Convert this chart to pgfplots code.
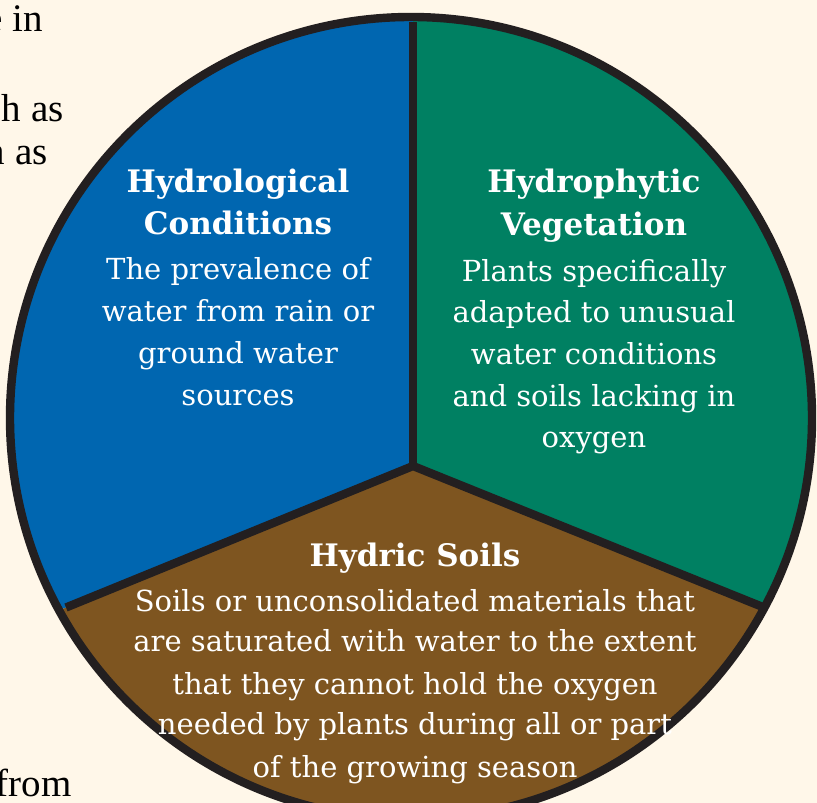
\documentclass[border=0pt]{standalone}
\usepackage{fontspec}
\setmainfont{DejaVu Serif}
\newfontfamily\blackfont{Liberation Serif}
\usepackage{pgfplots}
\pgfplotsset{compat=1.18}
\definecolor{cream}{RGB}{255,247,233}
\definecolor{pieblue}{RGB}{0,102,176}
\definecolor{piegreen}{RGB}{0,128,98}
\definecolor{piebrown}{RGB}{126,85,32}
\definecolor{outln}{RGB}{35,31,32}
\tikzset{
  head/.style={anchor=base, inner sep=0pt, text=white, font=\fontsize{15.5}{21}\selectfont\bfseries},
  body/.style={anchor=base, inner sep=0pt, text=white, font=\fontsize{14.5}{21}\selectfont},
  side/.style={anchor=base east, inner sep=0pt, text=black, font=\blackfont\fontsize{19.5}{23}\selectfont},
}
\begin{document}
\begin{tikzpicture}
\begin{axis}[at={(0,0)}, anchor=south west, scale only axis,
  width=408.5pt, height=401pt, xmin=0, xmax=817, ymin=0, ymax=802,
  hide axis, clip=false, no markers]
\fill[cream] (axis cs:-60,-60) rectangle (axis cs:900,900);
\begin{scope}
\clip (axis cs:411,384) circle [radius=200.5pt];
% three sectors (equal shares), vertices in pixel units
\addplot[fill=pieblue, draw=none] coordinates {(413,336) (413,1200) (-400,1200) (-293,48)} -- cycle;
\addplot[fill=piegreen, draw=none] coordinates {(413,336) (413,1200) (1230,1200) (1127,48)} -- cycle;
\addplot[fill=piebrown, draw=none] coordinates {(413,336) (-293,48) (-293,-400) (1127,-400) (1127,48)} -- cycle;
\end{scope}
\draw[outln, line width=4.2pt] (axis cs:411,384) circle [radius=200.5pt];
\addplot[outln, line width=4.2pt, line join=miter] coordinates {(66,194.5) (413,336) (764,194.5)};
\addplot[outln, line width=4.2pt] coordinates {(413,336) (413,780)};
% blue
\node[head] at (axis cs:238,609) {Hydrological};
\node[head] at (axis cs:238,567) {Conditions};
\node[body] at (axis cs:238,522) {The prevalence of};
\node[body] at (axis cs:238,480) {water from rain or};
\node[body] at (axis cs:238,438) {ground water};
\node[body] at (axis cs:238,396) {sources};
% green
\node[head] at (axis cs:594,609) {Hydrophytic};
\node[head] at (axis cs:594,566) {Vegetation};
\node[body] at (axis cs:594,520) {Plants specifically};
\node[body] at (axis cs:594,479) {adapted to unusual};
\node[body] at (axis cs:594,437) {water conditions};
\node[body] at (axis cs:594,395) {and soils lacking in};
\node[body] at (axis cs:594,354) {oxygen};
% brown
\node[head] at (axis cs:415,235) {Hydric Soils};
\node[body] at (axis cs:415,190) {Soils or unconsolidated materials that};
\node[body] at (axis cs:415,150) {are saturated with water to the extent};
\node[body] at (axis cs:415,107) {that they cannot hold the oxygen};
\node[body] at (axis cs:415,67) {needed by plants during all or part};
\node[body] at (axis cs:415,24) {of the growing season};
% surrounding page text fragments
\node[side] at (axis cs:43,770) {ne in};
\node[side] at (axis cs:64,680) {h as};
\node[side] at (axis cs:48,637) {n as};
\node[side] at (axis cs:72,5) {from};
\end{axis}
\pgfresetboundingbox
\useasboundingbox (0,0) rectangle (408.5pt,401pt);
\end{tikzpicture}
\end{document}
